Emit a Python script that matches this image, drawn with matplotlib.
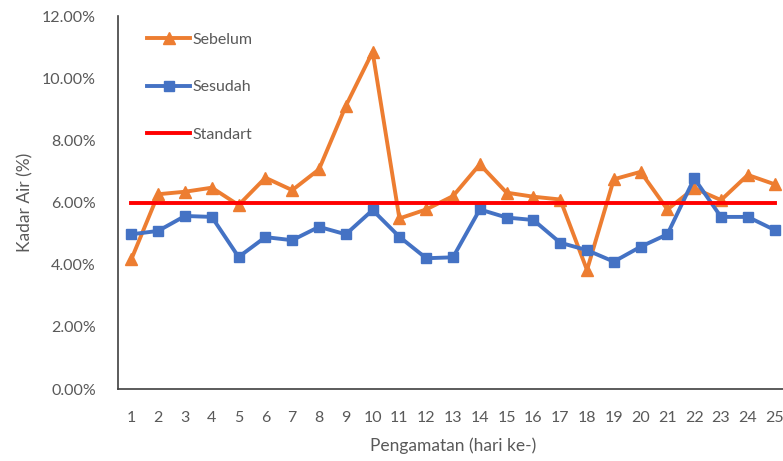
import matplotlib
matplotlib.use("Agg")
import matplotlib.pyplot as plt
from matplotlib.ticker import FuncFormatter

plt.rcParams['font.family'] = ['Lato', 'DejaVu Sans']

days = list(range(1, 26))
sebelum = [4.18, 6.27, 6.35, 6.48, 5.92, 6.80, 6.40, 7.07, 9.11, 10.85,
           5.49, 5.78, 6.21, 7.23, 6.32, 6.19, 6.10, 3.83, 6.75, 6.99,
           5.78, 6.46, 6.08, 6.89, 6.59]
sesudah = [4.98, 5.09, 5.57, 5.54, 4.25, 4.89, 4.79, 5.22, 4.98, 5.76,
           4.90, 4.21, 4.24, 5.78, 5.52, 5.44, 4.71, 4.47, 4.10, 4.58,
           4.98, 6.78, 5.54, 5.54, 5.12]
standart = [6.0] * 25

grey = '#595959'

fig = plt.figure(figsize=(7.83, 4.61), dpi=100)
ax = fig.add_axes([0.1507, 0.156, 0.8557, 0.809])

ax.plot(days, sebelum, color='#ED7D31', lw=2.8, marker='^', ms=8.5, label='Sebelum')
ax.plot(days, sesudah, color='#4472C4', lw=2.8, marker='s', ms=7.5, label='Sesudah')
ax.plot(days, standart, color='#FF0000', lw=2.8, label='Standart')

ax.set_xlim(0.5, 25.5)
ax.set_ylim(0, 12)
ax.set_xticks(days)
ax.set_yticks([0, 2, 4, 6, 8, 10, 12])
ax.yaxis.set_major_formatter(FuncFormatter(lambda v, p: f'{v:.2f}%'))
ax.tick_params(length=0, labelsize=11.5, colors=grey, pad=16)
ax.tick_params(axis='y', pad=16)

for s in ['top', 'right']:
    ax.spines[s].set_visible(False)
for s in ['left', 'bottom']:
    ax.spines[s].set_color('#404040')
    ax.spines[s].set_linewidth(1.2)

ax.set_xlabel('Pengamatan (hari ke-)', fontsize=12.5, color=grey, labelpad=9)
ax.set_ylabel('Kadar Air (%)', fontsize=12.5, color=grey, labelpad=6)

ax.legend(loc='upper left', bbox_to_anchor=(0.022, 0.995), frameon=False,
          fontsize=11.5, labelcolor=grey, handlelength=2.7, handletextpad=0.15,
          labelspacing=2.1)

fig.savefig('out.png', dpi=100)
